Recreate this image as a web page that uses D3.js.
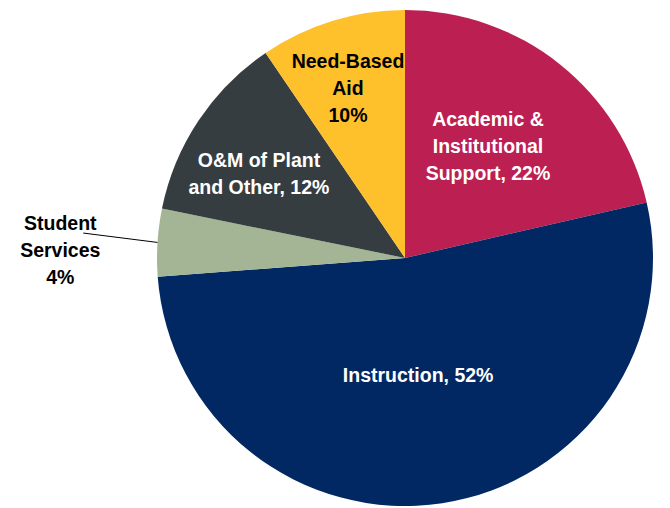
<!DOCTYPE html>
<html>
<head>
<meta charset="utf-8">
<script src="https://cdn.jsdelivr.net/npm/d3@7"></script>
<style>
  html, body { margin: 0; padding: 0; background: #fff; }
  svg text { font-family: "Liberation Sans", "DejaVu Sans", sans-serif; font-weight: bold; }
</style>
</head>
<body>
<svg id="chart" width="670" height="508"></svg>
<script>
// Slices in clockwise order from 12 o'clock
const categories = ['Academic & Institutional Support', 'Instruction', 'Student Services', 'O&M of Plant and Other', 'Need-Based Aid'];
const shares = [21.4, 52.4, 4.4, 12.3, 9.5];
const labelLines = [
  ['Academic &', 'Institutional', 'Support, 22%'],
  ['Instruction, 52%'],
  ['Student', 'Services', '4%'],
  ['O&M of Plant', 'and Other, 12%'],
  ['Need-Based', 'Aid', '10%']
];
const colors = ['#bc1f51', '#022864', '#a3b594', '#363d41', '#fec02b'];
const textColors = ['#fff', '#fff', '#000', '#fff', '#000'];

const svg = d3.select('#chart');
const cx = 405, cy = 258, radius = 248;

const data = categories.map((c, i) => ({ name: c, value: shares[i], lines: labelLines[i], color: colors[i], text: textColors[i] }));

const pie = d3.pie().sort(null).value(d => d.value);
const arcs = pie(data);
const arc = d3.arc().innerRadius(0).outerRadius(radius);

const g = svg.append('g').attr('transform', `translate(${cx},${cy})`);

g.selectAll('path')
  .data(arcs)
  .enter()
  .append('path')
  .attr('d', arc)
  .attr('fill', d => d.data.color);

// label centres: fraction of radius along the slice mid-angle, plus a nudge
const labelRadius = [0.56, 0.475, 1.39, 0.68, 0.723];
const labelShift = [[-3.5, -3.4], [-4.6, 0.5], [-0.7, 13.7], [-5.7, 9.1], [-4.3, 1.4]];
const lineHeight = 27;

arcs.forEach((a, i) => {
  const mid = (a.startAngle + a.endAngle) / 2;
  const r = radius * labelRadius[i];
  const x = Math.sin(mid) * r + labelShift[i][0];
  const y = -Math.cos(mid) * r + labelShift[i][1];
  const lines = a.data.lines;
  const t = g.append('text')
    .attr('text-anchor', 'middle')
    .attr('fill', a.data.text)
    .style('font-size', '19.5px');
  lines.forEach((l, k) => {
    t.append('tspan')
      .attr('x', x)
      .attr('y', y + (k - (lines.length - 1) / 2) * lineHeight + 7)
      .text(l);
  });
  a.labelPos = [x, y];
});

// leader line for the small slice
const ss = arcs[2];
const ssMid = (ss.startAngle + ss.endAngle) / 2;
const edge = [Math.sin(ssMid) * radius, -Math.cos(ssMid) * radius];
g.append('line')
  .attr('x1', ss.labelPos[0] + 23)
  .attr('y1', ss.labelPos[1] - 17)
  .attr('x2', edge[0])
  .attr('y2', edge[1])
  .attr('stroke', '#000')
  .attr('stroke-width', 1);
</script>
</body>
</html>
